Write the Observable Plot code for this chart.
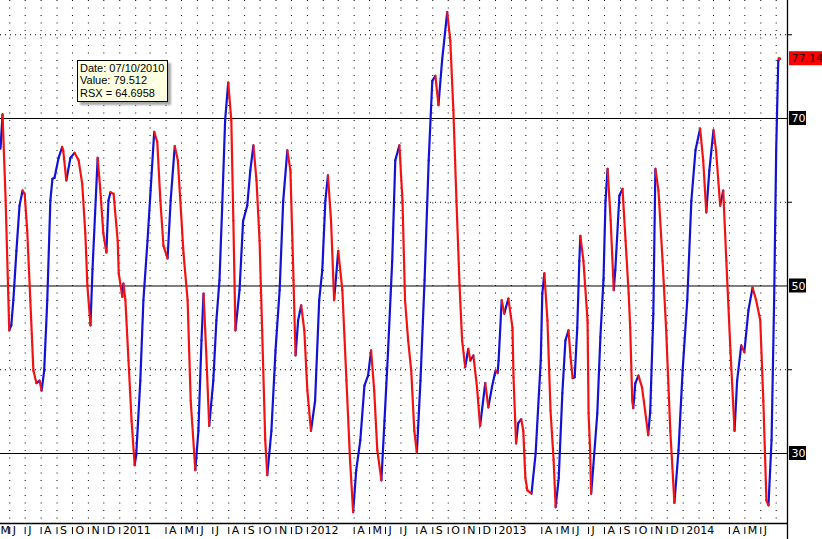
<!DOCTYPE html>
<html><head><meta charset="utf-8">
<script src="https://cdn.jsdelivr.net/npm/d3@7"></script>
<script src="https://cdn.jsdelivr.net/npm/@observablehq/plot@0.6"></script>
<style>
body{margin:0;background:#fff;}
#wrap{position:relative;width:822px;height:539px;overflow:hidden;background:#fff;}
#tip{position:absolute;left:77px;top:60px;width:91px;height:42px;box-sizing:border-box;background:#ffffe1;border:1px solid #000;box-shadow:3px 3px 2px #a8a8a8;font:11px "Liberation Sans",Arial,sans-serif;line-height:12.3px;padding:1px 0 0 2px;color:#000;white-space:nowrap;}
</style></head>
<body><div id="wrap"><div id="tip"></div></div>
<script>
// ---- data ----
const dates = [
"2010-05-14","2010-05-18","2010-05-24","2010-05-31","2010-06-04","2010-06-08","2010-06-14","2010-06-20","2010-06-26","2010-06-30",
"2010-07-05","2010-07-11","2010-07-17","2010-07-23","2010-07-29","2010-08-02","2010-08-07","2010-08-13","2010-08-19","2010-08-23",
"2010-08-27","2010-09-04","2010-09-11","2010-09-13","2010-09-19","2010-09-27","2010-10-05","2010-10-13","2010-10-20","2010-10-26",
"2010-10-30","2010-11-05","2010-11-09","2010-11-19","2010-11-24","2010-11-30","2010-12-06","2010-12-10","2010-12-14","2010-12-20",
"2010-12-28","2010-12-30","2011-01-06","2011-01-08","2011-01-12","2011-01-18","2011-01-24","2011-01-30","2011-02-02","2011-02-10",
"2011-02-16","2011-02-24","2011-03-02","2011-03-09","2011-03-15","2011-03-21","2011-03-27","2011-04-04","2011-04-10","2011-04-18",
"2011-04-24","2011-04-30","2011-05-05","2011-05-13","2011-05-19","2011-05-28","2011-06-03","2011-06-09","2011-06-13","2011-06-18",
"2011-06-24","2011-07-02","2011-07-08","2011-07-14","2011-07-19","2011-07-25","2011-07-31","2011-08-06","2011-08-10","2011-08-14",
"2011-08-22","2011-08-29","2011-09-06","2011-09-12","2011-09-18","2011-09-24","2011-09-30","2011-10-05","2011-10-11","2011-10-15",
"2011-10-23","2011-10-31","2011-11-08","2011-11-15","2011-11-23","2011-11-29","2011-12-05","2011-12-09","2011-12-14","2011-12-20",
"2011-12-26","2012-01-01","2012-01-08","2012-01-16","2012-01-24","2012-01-30","2012-02-05","2012-02-10","2012-02-16","2012-02-22",
"2012-03-01","2012-03-09","2012-03-17","2012-03-24","2012-03-30","2012-04-05","2012-04-13","2012-04-21","2012-04-28","2012-05-04",
"2012-05-10","2012-05-16","2012-05-24","2012-05-30","2012-06-06","2012-06-14","2012-06-20","2012-06-28","2012-07-04","2012-07-09",
"2012-07-15","2012-07-21","2012-07-27","2012-08-01","2012-08-08","2012-08-16","2012-08-24","2012-08-31","2012-09-06","2012-09-12",
"2012-09-19","2012-09-29","2012-10-05","2012-10-11","2012-10-17","2012-10-23","2012-10-28","2012-11-03","2012-11-09","2012-11-13",
"2012-11-19","2012-11-26","2012-12-02","2012-12-12","2012-12-18","2012-12-25","2013-01-01","2013-01-05","2013-01-07","2013-01-13",
"2013-01-18","2013-01-26","2013-02-03","2013-02-05","2013-02-10","2013-02-14","2013-02-20","2013-02-24","2013-02-28","2013-03-04",
"2013-03-12","2013-03-20","2013-03-30","2013-04-02","2013-04-06","2013-04-12","2013-04-18","2013-04-24","2013-04-28","2013-05-04",
"2013-05-11","2013-05-17","2013-05-23","2013-05-27","2013-05-31","2013-06-04","2013-06-09","2013-06-13","2013-06-15","2013-06-21",
"2013-06-29","2013-07-01","2013-07-04","2013-07-06","2013-07-10","2013-07-18","2013-07-24","2013-07-30","2013-08-03","2013-08-07",
"2013-08-13","2013-08-19","2013-08-22","2013-08-30","2013-09-05","2013-09-11","2013-09-17","2013-09-20","2013-09-24","2013-09-26",
"2013-09-30","2013-10-06","2013-10-13","2013-10-19","2013-10-25","2013-10-29","2013-11-04","2013-11-08","2013-11-14","2013-11-22",
"2013-11-29","2013-12-07","2013-12-15","2013-12-23","2013-12-31","2014-01-09","2014-01-17","2014-01-25","2014-02-03","2014-02-09",
"2014-02-15","2014-02-21","2014-03-01","2014-03-06","2014-03-14","2014-03-20","2014-03-26","2014-04-03","2014-04-11","2014-04-16",
"2014-04-24","2014-04-30","2014-05-08","2014-05-16","2014-05-23","2014-05-31","2014-06-06","2014-06-12","2014-06-16","2014-06-22",
"2014-06-27","2014-07-01","2014-07-05","2014-07-07"];
const rsx = [
66.4,70.5,60.2,44.7,45.3,48.3,54.2,59.6,61.4,61.0,
56.6,48.3,39.9,38.4,38.7,37.5,39.9,48.3,60.2,62.8,
62.9,65.3,66.6,66.2,62.6,65.3,65.9,65.0,62.2,56.3,
50.1,45.3,52.0,65.3,61.6,56.3,54.0,60.2,61.2,61.0,
55.4,51.5,48.7,50.3,48.3,41.1,33.9,28.6,29.8,38.7,
48.3,55.4,61.4,68.4,67.2,60.2,54.8,53.3,60.2,66.7,
65.0,59.0,53.9,48.3,36.3,28.0,32.7,43.5,49.1,42.3,
33.3,38.7,45.9,50.7,59.0,69.8,74.3,69.8,57.8,44.7,
49.5,57.8,59.6,63.8,66.8,62.6,55.4,44.7,31.6,27.4,
32.7,42.3,49.5,60.2,66.2,63.8,50.7,41.7,45.9,47.7,
44.7,37.5,32.7,36.3,48.3,51.9,60.2,63.2,57.8,48.3,
54.2,49.5,38.7,29.2,23.0,28.0,31.6,38.1,39.3,42.3,
37.5,30.4,26.8,33.9,42.3,53.0,65.0,66.8,60.2,48.3,
43.5,39.9,32.7,30.1,38.7,50.7,65.0,74.5,75.1,71.6,
76.9,82.7,79.3,71.0,60.2,50.1,43.5,40.3,42.5,41.1,
41.7,37.9,33.3,38.4,35.5,37.9,39.9,39.6,41.1,48.3,
46.7,48.5,45.0,39.1,31.2,33.6,34.1,32.7,27.1,25.6,
25.2,30.0,41.1,49.1,51.5,45.9,35.1,29.2,23.6,27.1,
37.2,43.5,44.7,41.5,39.0,39.1,45.0,53.0,56.0,53.0,
45.9,34.8,30.4,25.2,28.3,34.8,43.9,50.7,60.2,64.0,
57.8,49.5,51.9,60.8,61.6,55.4,49.1,45.0,36.3,35.4,
38.4,39.3,37.9,35.1,32.2,35.1,46.7,64.0,61.4,53.0,
44.7,32.7,24.1,30.4,39.9,48.3,60.2,66.2,68.8,65.0,
58.8,63.8,68.6,66.2,59.6,61.4,53.0,42.3,32.7,38.7,
42.9,42.1,47.1,49.8,48.3,45.9,36.3,24.4,23.8,31.6,
48.3,66.2,76.9,77.14];
const levels = [70, 50, 30];
const gridLevels = [80, 60, 40];
const tickDates = ["2010-05-01","2010-06-01","2010-07-01","2010-08-01","2010-09-01","2010-10-01","2010-11-01","2010-12-01",
"2011-01-01","2011-04-01","2011-05-01","2011-06-01","2011-07-01","2011-08-01","2011-09-01","2011-10-01","2011-11-01","2011-12-01",
"2012-01-01","2012-04-01","2012-05-01","2012-06-01","2012-07-01","2012-08-01","2012-09-01","2012-10-01","2012-11-01","2012-12-01",
"2013-01-01","2013-04-01","2013-05-01","2013-06-01","2013-07-01","2013-08-01","2013-09-01","2013-10-01","2013-11-01","2013-12-01",
"2014-01-01","2014-04-01","2014-05-01","2014-06-01"];
const tickLabels = ["M","J","J","A","S","O","N","D",
"2011","A","M","J","J","A","S","O","N","D",
"2012","A","M","J","J","A","S","O","N","D",
"2013","A","M","J","J","A","S","O","N","D",
"2014","A","M","J"];
const tooltipLines = ["Date: 07/10/2010", "Value: 79.512", "RSX = 64.6958"];

// ---- build ----
const data = dates.map((d, i) => ({date: new Date(d), value: rsx[i]}));
const segs = data.slice(1).map((d, i) => ({a: data[i], b: d, up: d.value >= data[i].value}));
const xStart = new Date("2010-05-14"), xEnd = new Date("2014-07-23");
const yMin = 21.64, yMax = 84.09;
const months = d3.utcMonths(new Date("2010-06-01"), xEnd);
const ticks = tickDates.map((d, i) => ({date: new Date(d), label: tickLabels[i]}));
const inTicks = ticks.filter(t => t.date >= xStart);
const edgeTicks = ticks.filter(t => t.date < xStart);
const last = data[data.length - 1];
const BLUE = "#1212d6", RED = "#f21212";
const font = "DejaVu Sans";
const lk = {x1: d => d.a.date, y1: d => d.a.value, x2: d => d.b.date, y2: d => d.b.value, strokeWidth: 2.2, strokeLinecap: "round"};

const chart = Plot.plot({
  width: 822, height: 539,
  marginLeft: 0, marginRight: 35, marginTop: 0, marginBottom: 16,
  x: {type: "utc", domain: [xStart, xEnd], axis: null},
  y: {domain: [yMin, yMax], axis: null},
  style: {background: "white", fontFamily: font, fontSize: "11px"},
  marks: [
    Plot.ruleX(months, {stroke: "#000", strokeWidth: 1, strokeDasharray: "1,6.5"}),
    Plot.ruleY(gridLevels, {stroke: "#000", strokeWidth: 1, strokeDasharray: "1,4"}),
    Plot.ruleY(gridLevels, {x1: xEnd, x2: xEnd, insetRight: -5, stroke: "#000"}),
    Plot.ruleY(levels, {stroke: "#000", strokeWidth: 1}),
    Plot.link(segs.filter(s => s.up), {...lk, stroke: BLUE}),
    Plot.link(segs.filter(s => !s.up), {...lk, stroke: RED}),
    Plot.dot([last], {x: "date", y: "value", r: 1.8, fill: RED, stroke: "none"}),
    Plot.ruleY([yMin], {stroke: "#000", strokeWidth: 1.3}),
    Plot.ruleX([xEnd], {stroke: "#000", strokeWidth: 1.3, insetBottom: -16}),
    Plot.ruleX(inTicks, {x: "date", insetTop: 527, insetBottom: -11, stroke: "#000", strokeWidth: 1}),
    Plot.text(inTicks, {x: "date", frameAnchor: "bottom", text: "label", textAnchor: "start", lineAnchor: "top", dx: 3, dy: 3, fill: "#000", fontSize: 11, fontFamily: font}),
    Plot.text(edgeTicks, {x: () => xStart, frameAnchor: "bottom", text: "label", textAnchor: "start", lineAnchor: "top", dx: 0, dy: 3, fill: "#000", fontSize: 11, fontFamily: font}),
    // value boxes at the right edge
    Plot.rect(levels, {x1: () => xEnd, x2: () => xEnd, y1: d => d, y2: d => d, insetLeft: 2, insetRight: -19, insetTop: -7, insetBottom: -7, fill: "#000"}),
    Plot.rect([last], {x1: () => xEnd, x2: () => xEnd, y1: "value", y2: "value", insetLeft: 2, insetRight: -36, insetTop: -7, insetBottom: -7, fill: "#ff0000"}),
    Plot.text(levels, {x: () => xEnd, y: d => d, text: d => String(d), textAnchor: "start", dx: 4, fill: "#ffffff", fontSize: 11, fontFamily: font}),
    Plot.text([last], {x: () => xEnd, y: "value", text: d => d.value.toFixed(2), textAnchor: "start", dx: 4, fill: "#300000", fontSize: 11, fontFamily: font})
  ]
});
const wrap = document.getElementById("wrap");
wrap.insertBefore(chart, wrap.firstChild);
document.getElementById("tip").innerHTML = tooltipLines.map(s => `<div>${s}</div>`).join("");
</script>
</body></html>
